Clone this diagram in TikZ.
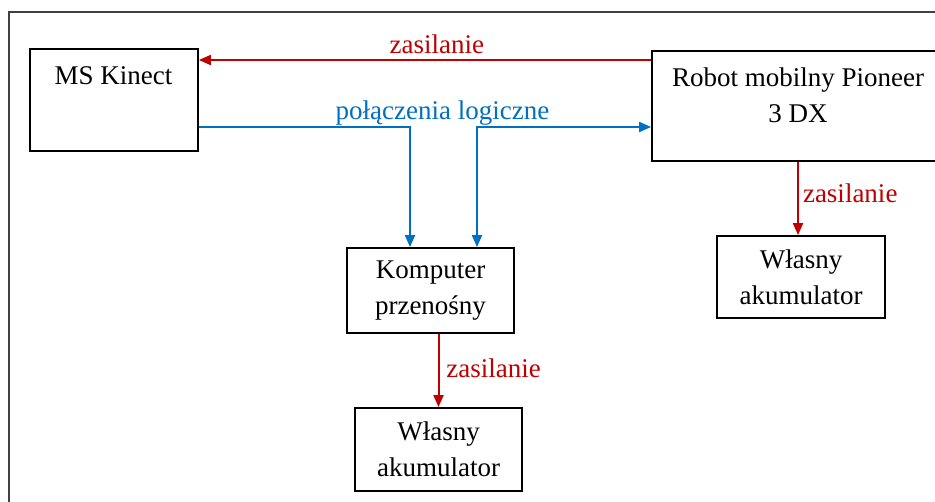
\documentclass[tikz,border=0pt]{standalone}
\usepackage{fontspec}
\setmainfont{Liberation Serif}
\definecolor{pwrred}{RGB}{192, 0, 0}
\definecolor{logblue}{RGB}{0, 112, 192}
\definecolor{framegray}{RGB}{64, 64, 64}
\usetikzlibrary{arrows.meta, positioning, calc}
\tikzset{
    box/.style={
        rectangle, draw=black, line width=0.9pt,
        align=center, font=\fontsize{13.5}{18}\selectfont,
        inner sep=0pt
    },
    txt/.style={font=\fontsize{13.5}{18}\selectfont, align=center, inner sep=0pt},
    pwr/.style={-{Triangle[length=6pt, width=5pt]}, line width=1pt, color=pwrred},
    logic/.style={-{Triangle[length=6pt, width=5pt]}, line width=1pt, color=logblue},
    pwrlbl/.style={font=\fontsize{13.5}{18}\selectfont, text=pwrred, inner sep=0pt},
    loglbl/.style={font=\fontsize{13.5}{18}\selectfont, text=logblue, inner sep=0pt}
}
\begin{document}
\begin{tikzpicture}[x=1pt, y=-1pt]
    \useasboundingbox (0,0) rectangle (467.5,251);
    \clip (0,0) rectangle (467.5,251);

    % Outer frame
    \draw[line width=1pt, color=framegray] (4.5,6) rectangle (490,270);

    % Devices
    \node[box, minimum width=84pt, minimum height=51pt] (kinect) at (57,50) {};
    \node[txt, anchor=base] (kinectlbl) at (56.8,42.5) {MS Kinect};

    \node[box, minimum width=292pt, minimum height=55pt] (robot) at (472,53) {};
    \node[txt] (robotlbl) at (399,47.5) {Robot mobilny Pioneer\\3 DX};

    \node[box, minimum width=83.5pt, minimum height=42.5pt] (laptop) at (215.25,145.25) {Komputer\\przenośny};

    % Batteries
    \node[box, minimum width=83.5pt, minimum height=41.5pt] (batlaptop) at (219.25,224.75) {Własny\\akumulator};
    \node[box, minimum width=84pt, minimum height=41pt] (batrobot) at (400.5,138.5) {Własny\\akumulator};

    % Row heights of the horizontal lines
    \coordinate (pwrrow) at (0,30);
    \coordinate (logrow) at (0,63.5);

    % Power lines
    \draw[pwr] (robot.west |- pwrrow) -- node[pwrlbl, pos=0.474, above=2.5pt] {zasilanie} (kinect.east |- pwrrow);
    \draw[pwr] (batlaptop.north |- laptop.south) -- node[pwrlbl, pos=0.6, anchor=base west, xshift=3.4pt] {zasilanie} (batlaptop.north);
    \draw[pwr] (robotlbl.center |- robot.south) -- node[pwrlbl, pos=0.56, anchor=base west, xshift=2pt] {zasilanie} (robotlbl.center |- batrobot.north);

    % Logical connections
    \draw[logic] (kinect.east |- logrow) -| ([xshift=-10.25pt]laptop.north);
    \draw[logic, {Triangle[length=6pt, width=5pt]}-{Triangle[length=6pt, width=5pt]}]
        ([xshift=23.25pt]laptop.north) |- (robot.west |- logrow);
    \node[loglbl, anchor=base] (loglbl) at (221.25,60) {połączenia logiczne};

\end{tikzpicture}
\end{document}
